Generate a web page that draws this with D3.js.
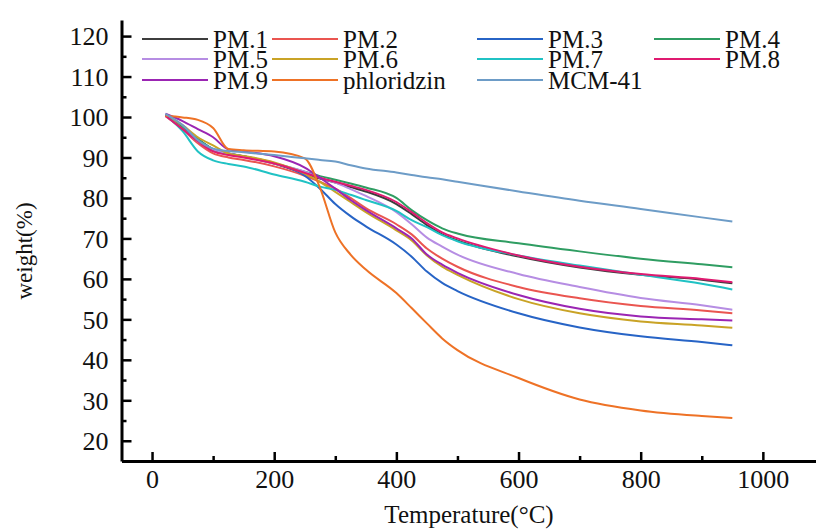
<!DOCTYPE html>
<html>
<head>
<meta charset="utf-8">
<script src="https://cdn.jsdelivr.net/npm/d3@7"></script>
<style>
  body { margin: 0; background: #fff; }
  svg text { font-family: "Liberation Serif", "Times New Roman", Times, serif !important; }
</style>
</head>
<body>
<svg id="tga_chart"></svg>
<script>
// temperature points (°C) shared by every curve
const temps = [22, 50, 75, 100, 125, 150, 200, 250, 275, 300, 325, 350, 400, 425, 450, 475, 500, 600, 700, 800, 900, 950];

// weight (%)
const pm1 = [100.5, 97.5, 94.5, 92, 91, 90.3, 88.5, 86, 84.8, 83.8, 82.7, 81.6, 78.5, 76, 73.3, 71, 69.5, 65.5, 62.8, 61, 59.8, 58.9];
const pm2 = [100.2, 97, 93.5, 91, 90, 89.4, 87.8, 85.5, 84, 82.3, 80, 77.5, 73.5, 71, 67.5, 65, 63, 58, 55.2, 53.3, 52.2, 51.5];
const pm3 = [100.4, 97.5, 94.5, 92, 91, 90.3, 88.6, 85.5, 82.3, 78.5, 75.5, 73, 68.5, 65.5, 61.8, 59, 57, 51.5, 48, 45.8, 44.4, 43.6];
const pm4 = [100.5, 97.5, 94.5, 92, 90.8, 90.2, 88.5, 86.5, 85.4, 84.5, 83.6, 82.6, 80, 77, 74.5, 72.5, 71.2, 68.8, 66.8, 65, 63.6, 62.9];
const pm5 = [100.4, 97, 94, 92, 91, 90.2, 88.5, 86.5, 85, 83.8, 82.2, 80.5, 76.5, 73.5, 70.2, 68, 66, 61.2, 58, 55.3, 53.5, 52.4];
const pm6 = [100.5, 98, 95, 93, 91, 90.4, 88.8, 86, 84, 81.5, 79, 76.5, 72, 69.5, 65.8, 63, 61, 55, 51.5, 49.5, 48.5, 47.9];
const pm7 = [100.5, 96.5, 91.5, 89.3, 88.4, 87.8, 85.8, 84, 82.8, 82, 80.8, 79.5, 76.8, 74.5, 72.8, 70.8, 69.3, 65.8, 63.3, 61, 58.8, 57.4];
const pm8 = [100.3, 97, 94, 91.5, 90.6, 90, 88.5, 86.2, 85, 84, 83, 82, 79, 76.5, 73.8, 71.5, 70, 65.8, 63, 61.2, 60, 59.2];
const pm9 = [100.8, 99, 97, 95, 92, 91.5, 90.3, 87.5, 85, 82.3, 79.5, 77, 72.5, 70, 66, 63.5, 61.5, 56, 52.6, 50.7, 50, 49.7];
const phloridzin = [100.3, 99.9, 99.3, 97.3, 92.1, 91.8, 91.5, 89.8, 82.5, 71.5, 66, 62.3, 56.5, 52.8, 49, 45.3, 42.4, 35.5, 30.2, 27.5, 26.1, 25.6];
const mcm41 = [100.8, 98, 94.3, 92.2, 91.6, 91.3, 90.6, 89.8, 89.4, 89, 88.1, 87.3, 86.3, 85.7, 85.1, 84.6, 84, 81.6, 79.3, 77.3, 75.2, 74.2];

const seriesNames = ["PM.1", "PM.2", "PM.3", "PM.4", "PM.5", "PM.6", "PM.7", "PM.8", "PM.9", "phloridzin", "MCM-41"];
const seriesValues = [pm1, pm2, pm3, pm4, pm5, pm6, pm7, pm8, pm9, phloridzin, mcm41];
const seriesColors = ["#3d3d3d", "#ea5550", "#2764c6", "#2f9d62", "#b68de3", "#c9a326", "#20c2c4", "#df1a70", "#9b25b3", "#ee7226", "#6d9cc7"];

const xTicks = [0, 200, 400, 600, 800, 1000];
const yTicks = [20, 30, 40, 50, 60, 70, 80, 90, 100, 110, 120];

function makeTgaChart() {
    let w = 816;
    let h = 531;

    let svg = d3.select('#tga_chart')
        .attr('width', w)
        .attr('height', h);

    let xScale = d3.scaleLinear()
        .domain([-50, 1087])
        .range([121.5, 816]);

    let yScale = d3.scaleLinear()
        .domain([15, 124])
        .range([461, 19.9]);

    let line = d3.line()
        .curve(d3.curveMonotoneX)
        .x(d => xScale(d[0]))
        .y(d => yScale(d[1]));

    let lines = seriesValues.map(vals => temps.map((t, i) => [t, vals[i]]));

    svg.append('g')
        .selectAll('path')
        .data(lines)
        .enter()
        .append('path')
        .attr('d', line)
        .attr('fill', 'none')
        .attr('stroke', (d, i) => seriesColors[i])
        .attr('stroke-width', 2);

    // minor ticks
    let xMinor = d3.axisBottom(xScale)
        .tickValues(d3.range(100, 1001, 200))
        .tickSizeInner(-5)
        .tickSizeOuter(0)
        .tickFormat('');
    svg.append('g')
        .attr('transform', `translate(0, 461)`)
        .call(xMinor)
        .call(g => g.select('.domain').remove())
        .selectAll('line').attr('stroke-width', 2.5);

    let yMinor = d3.axisLeft(yScale)
        .tickValues(d3.range(25, 120, 10))
        .tickSizeInner(-5)
        .tickSizeOuter(0)
        .tickFormat('');
    svg.append('g')
        .attr('transform', `translate(121.5, 0)`)
        .call(yMinor)
        .call(g => g.select('.domain').remove())
        .selectAll('line').attr('stroke-width', 2.5);

    // major axes
    let xAxis = d3.axisBottom(xScale)
        .tickValues(xTicks)
        .tickFormat(d3.format('d'))
        .tickSizeInner(-9)
        .tickSizeOuter(0)
        .tickPadding(9);
    let xAxisGroup = svg.append('g')
        .attr('transform', `translate(0, 461)`)
        .call(xAxis);

    let yAxis = d3.axisLeft(yScale)
        .tickValues(yTicks)
        .tickSizeInner(-10)
        .tickSizeOuter(0)
        .tickPadding(13);
    let yAxisGroup = svg.append('g')
        .attr('transform', `translate(121.5, 0)`)
        .call(yAxis);

    [xAxisGroup, yAxisGroup].forEach(g => {
        g.select('.domain').attr('stroke-width', 3).attr('stroke', '#000');
        g.selectAll('.tick line').attr('stroke-width', 2.5).attr('stroke', '#000');
        g.selectAll('.tick text')
            .attr('font-size', 26)
            .attr('fill', '#111');
    });
    yAxisGroup.selectAll('.tick text').attr('dy', '0.34em');

    svg.append('text')
        .attr('x', 469)
        .attr('y', 523)
        .attr('text-anchor', 'middle')
        .attr('font-size', 25)
        .attr('fill', '#111')
        .text('Temperature(°C)');

    svg.append('text')
        .attr('transform', 'translate(32, 251) rotate(-90)')
        .attr('text-anchor', 'middle')
        .attr('font-size', 23)
        .attr('fill', '#111')
        .text('weight(%)');

    // legend: 4 columns, 3 rows
    let colX = [142, 272, 477, 654];
    let rowY = [39, 59, 80];
    let legend = svg.append('g')
        .selectAll('g')
        .data(seriesNames)
        .enter()
        .append('g')
        .attr('transform', (d, i) => `translate(${colX[i % 4]}, ${rowY[Math.floor(i / 4)]})`);
    legend.append('line')
        .attr('x1', 0)
        .attr('x2', 66)
        .attr('stroke', (d, i) => seriesColors[i])
        .attr('stroke-width', 2);
    legend.append('text')
        .attr('x', 71)
        .attr('dy', '0.34em')
        .attr('font-size', 25)
        .attr('fill', '#111')
        .text(d => d);
}

window.onload = function() {
    makeTgaChart();
}
</script>
</body>
</html>
